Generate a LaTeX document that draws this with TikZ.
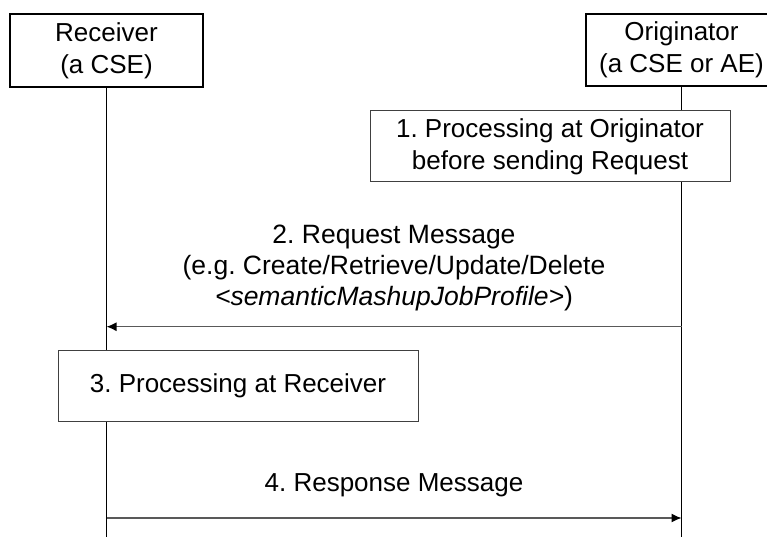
\documentclass[tikz,border=0pt]{standalone}
\usepackage{fontspec}
\setmainfont{Liberation Sans}
\usetikzlibrary{arrows.meta}
\frenchspacing

\begin{document}
\begin{tikzpicture}[x=1pt, y=-1pt,
  every node/.style={font=\fontsize{26}{32}\selectfont, align=center, inner sep=0pt, text=black},
  entity/.style={draw=black, line width=2pt, fill=white, minimum width=193pt, minimum height=73pt},
  procbox/.style={draw=black!75, line width=0.8pt, fill=white, minimum width=360pt, minimum height=71pt},
  lifeline/.style={black, line width=1pt},
  msg/.style={black!65, line width=1.2pt, -{Latex[length=10pt, width=9pt, color=black]}}]
\useasboundingbox (0,0) rectangle (767,537);
\node[entity] (receiver) at (106.5,50.5) {Receiver\\(a CSE)};
\node[entity, minimum width=192pt, minimum height=72pt] (originator) at (681.5,50) {Originator\\(a CSE or AE)};
\coordinate (receiverend) at (106.5,537);
\coordinate (originatorend) at (681.5,537);
\draw[lifeline] (receiver) -- (receiverend);
\draw[lifeline] (originator) -- (originatorend);
\node[procbox] (step1) at (550,146.3) {1. Processing at Originator\\before sending Request};
\node[procbox] (step3) at (238,386.2) {3. Processing at Receiver};
% messages
\coordinate (req) at (0,326.7);
\coordinate (rsp) at (0,518);
\draw[msg] (originator |- req) -- (receiver |- req)
  node[midway, above=15pt, font=\fontsize{26.5}{31}\selectfont] (step2) {2. Request Message\\(e.g. Create/Retrieve/Update/Delete\\\textit{<semanticMashupJobProfile>})};
\draw[msg] (receiver |- rsp) -- (originator |- rsp)
  node[midway, above=21pt] (step4) {4. Response Message};
\end{tikzpicture}
\end{document}
